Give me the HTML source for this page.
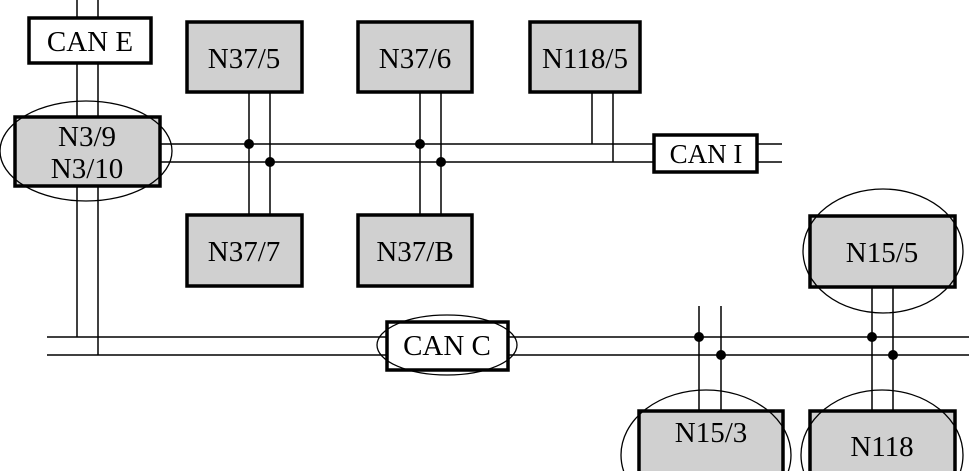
<!DOCTYPE html>
<html><head><style>html,body{margin:0;background:#fff;overflow:hidden;width:969px;height:471px}svg{display:block}text{font-family:"Liberation Serif",serif;font-size:29px;text-anchor:middle}</style></head><body>
<svg width="969" height="471" viewBox="0 0 969 471" xmlns="http://www.w3.org/2000/svg">
<g stroke="#000" stroke-width="1.5" fill="none">
<line x1="77" y1="0" x2="77" y2="337"/><line x1="98" y1="0" x2="98" y2="355"/>
<line x1="47" y1="337" x2="969" y2="337"/><line x1="47" y1="355" x2="969" y2="355"/>
<line x1="160" y1="144" x2="782" y2="144"/><line x1="160" y1="162" x2="782" y2="162"/>
<line x1="249" y1="92" x2="249" y2="215"/><line x1="270" y1="92" x2="270" y2="215"/>
<line x1="420" y1="92" x2="420" y2="215"/><line x1="441" y1="92" x2="441" y2="215"/>
<line x1="592" y1="92" x2="592" y2="144"/><line x1="613" y1="92" x2="613" y2="162"/>
<line x1="699" y1="306" x2="699" y2="411"/><line x1="721" y1="306" x2="721" y2="411"/>
<line x1="872" y1="287" x2="872" y2="411"/><line x1="893" y1="287" x2="893" y2="411"/>
</g>
<g fill="#000">
<circle cx="249" cy="144" r="5"/><circle cx="270" cy="162" r="5"/>
<circle cx="420" cy="144" r="5"/><circle cx="441" cy="162" r="5"/>
<circle cx="699" cy="337" r="5"/><circle cx="721" cy="355" r="5"/>
<circle cx="872" cy="337" r="5"/><circle cx="893" cy="355" r="5"/>
</g>
<g stroke="#000" stroke-width="3.5">
<rect x="29" y="18" width="122" height="45" fill="#fff"/>
<rect x="15" y="117" width="145" height="69" fill="#d0d0d0"/>
<rect x="187" y="22" width="115" height="70" fill="#d0d0d0"/>
<rect x="358" y="22" width="114" height="70" fill="#d0d0d0"/>
<rect x="530" y="22" width="110" height="70" fill="#d0d0d0"/>
<rect x="187" y="215" width="115" height="71" fill="#d0d0d0"/>
<rect x="358" y="215" width="114" height="71" fill="#d0d0d0"/>
<rect x="654" y="135" width="103" height="37" fill="#fff"/>
<rect x="387" y="322" width="121" height="48" fill="#fff"/>
<rect x="810" y="216" width="145" height="71" fill="#d0d0d0"/>
<rect x="639" y="411" width="144" height="70" fill="#d0d0d0"/>
<rect x="810" y="411" width="145" height="70" fill="#d0d0d0"/>
</g>
<g stroke="#000" stroke-width="1.3" fill="none">
<ellipse cx="86" cy="151" rx="86" ry="50"/>
<ellipse cx="447" cy="345" rx="70" ry="30"/>
<ellipse cx="883" cy="251" rx="80" ry="62"/>
<ellipse cx="706" cy="455" rx="85" ry="65"/>
<ellipse cx="882" cy="455" rx="81" ry="65"/>
</g>
<text x="90" y="51">CAN E</text>
<text x="87" y="146">N3/9</text><text x="87" y="178">N3/10</text>
<text x="244" y="68">N37/5</text><text x="415" y="68">N37/6</text><text x="585" y="68">N118/5</text>
<text x="244" y="261">N37/7</text><text x="415" y="261">N37/B</text>
<text x="706" y="163" style="font-size:27px">CAN I</text>
<text x="447" y="355">CAN C</text>
<text x="882" y="262">N15/5</text>
<text x="711" y="442">N15/3</text>
<text x="882" y="456">N118</text>
</svg>
</body></html>
